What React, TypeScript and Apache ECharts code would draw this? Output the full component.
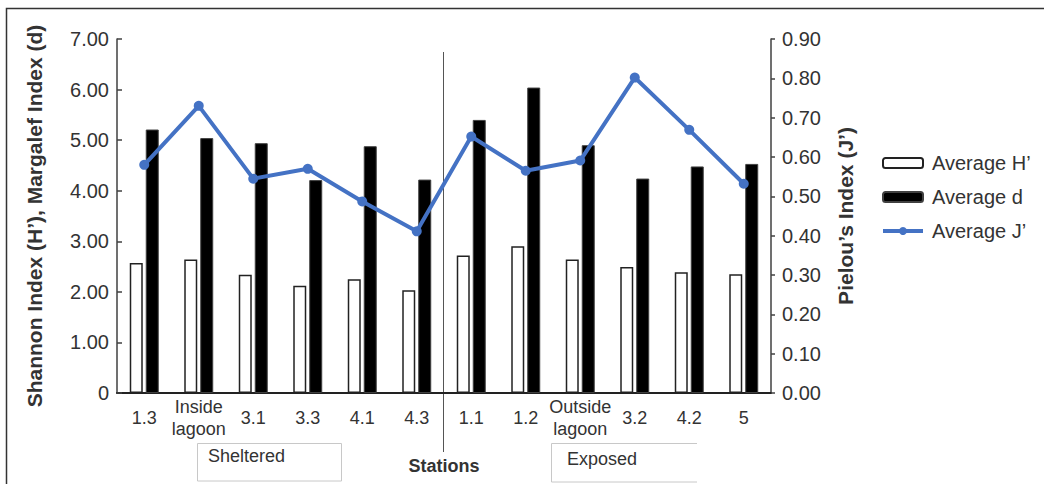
import React, { useEffect, useRef } from "react";
import * as echarts from "echarts";

const stations = ["1.3", "Inside\nlagoon", "3.1", "3.3", "4.1", "4.3", "1.1", "1.2", "Outside\nlagoon", "3.2", "4.2", "5"];
const averageH = [2.57, 2.64, 2.34, 2.12, 2.25, 2.03, 2.72, 2.9, 2.64, 2.49, 2.39, 2.35];
const averageD = [5.21, 5.04, 4.94, 4.21, 4.88, 4.22, 5.4, 6.04, 4.9, 4.24, 4.48, 4.53];
const averageJ = [0.58, 0.73, 0.545, 0.57, 0.487, 0.411, 0.652, 0.565, 0.591, 0.802, 0.669, 0.532];
const seriesNames = ["Average H’", "Average d", "Average J’"];
const leftAxisName = "Shannon Index (H’), Margalef Index (d)";
const rightAxisName = "Pielou’s Index (J’)";
const xAxisName = "Stations";
const groupLabels = ["Sheltered", "Exposed"];

const FONT = "'Liberation Sans', Arial, sans-serif";
const TXT = "#333333";
const BLUE = "#4472C4";

export default function App() {
  const ref = useRef<HTMLDivElement>(null);
  useEffect(() => {
    if (!ref.current) return;
    const chart = echarts.init(ref.current, null, { renderer: "svg" });
    chart.setOption({
      animation: false,
      backgroundColor: "#ffffff",
      textStyle: { fontFamily: FONT },
      grid: { left: 117, right: 273, top: 39, bottom: 91 },
      legend: {
        orient: "vertical",
        left: 876,
        top: 148,
        itemWidth: 40,
        itemHeight: 10,
        itemGap: 14,
        data: [
          { name: seriesNames[0] },
          { name: seriesNames[1] },
          { name: seriesNames[2], lineStyle: { width: 4, color: BLUE } },
        ],
        textStyle: { fontSize: 20, color: TXT, fontFamily: FONT, padding: [0, 0, 0, 4] },
      },
      xAxis: {
        type: "category",
        data: stations,
        axisLine: { lineStyle: { color: "#222", width: 2 } },
        axisTick: { show: false },
        axisLabel: {
          fontSize: 18,
          color: TXT,
          fontFamily: FONT,
          verticalAlign: "middle",
          margin: 25,
          lineHeight: 22,
          interval: 0,
        },
      },
      yAxis: [
        {
          type: "value",
          min: 0,
          max: 7,
          interval: 1,
          name: leftAxisName,
          nameLocation: "middle",
          nameGap: 72,
          nameRotate: 90,
          nameTextStyle: { fontSize: 21, fontWeight: "bold", color: TXT, fontFamily: FONT },
          axisLine: { show: true, lineStyle: { color: "#404040", width: 1.5 } },
          axisTick: { show: true, inside: true, length: 5, lineStyle: { color: "#404040", width: 1.5 } },
          splitLine: { show: false },
          axisLabel: {
            fontSize: 20,
            color: TXT,
            fontFamily: FONT,
            margin: 8,
            formatter: (v: number) => (v === 0 ? "0" : v.toFixed(2)),
          },
        },
        {
          type: "value",
          min: 0,
          max: 0.9,
          interval: 0.1,
          name: rightAxisName,
          nameLocation: "middle",
          nameGap: 64,
          nameRotate: 90,
          nameTextStyle: { fontSize: 21, fontWeight: "bold", color: TXT, fontFamily: FONT },
          axisLine: { show: true, lineStyle: { color: "#404040", width: 1.5 } },
          axisTick: { show: true, inside: false, length: 4, lineStyle: { color: "#404040", width: 1.5 } },
          splitLine: { show: false },
          axisLabel: {
            fontSize: 20,
            color: TXT,
            fontFamily: FONT,
            margin: 11,
            formatter: (v: number) => v.toFixed(2),
          },
        },
      ],
      series: [
        {
          name: seriesNames[0],
          type: "bar",
          data: averageH,
          barWidth: 13,
          barGap: "23%",
          itemStyle: { color: "#ffffff", borderColor: "#222", borderWidth: 1.5 },
        },
        {
          name: seriesNames[1],
          type: "bar",
          data: averageD,
          barWidth: 13,
          barGap: "23%",
          itemStyle: { color: "#000000", borderColor: "#404040", borderWidth: 1 },
        },
        {
          name: seriesNames[2],
          type: "line",
          yAxisIndex: 1,
          data: averageJ,
          z: 5,
          symbol: "circle",
          symbolSize: 10,
          lineStyle: { color: BLUE, width: 4 },
          itemStyle: { color: BLUE },
        },
      ],
      graphic: [
        {
          type: "rect",
          shape: { x: 6.5, y: 8.5, width: 1100, height: 600 },
          style: { fill: "none", stroke: "#333", lineWidth: 1.5 },
          silent: true,
        },
        {
          type: "line",
          shape: { x1: 443.5, y1: 52, x2: 443.5, y2: 452 },
          style: { stroke: "#555", lineWidth: 1 },
          silent: true,
        },
        {
          type: "rect",
          shape: { x: 197.5, y: 443.5, width: 144, height: 37.5 },
          style: { fill: "none", stroke: "#c8c8c8", lineWidth: 1 },
          silent: true,
        },
        {
          type: "polyline",
          shape: { points: [[697, 443.5], [551.5, 443.5], [551.5, 482], [697, 482]] },
          style: { fill: "none", stroke: "#c8c8c8", lineWidth: 1 },
          silent: true,
        },
        {
          type: "text",
          x: 208,
          y: 456,
          style: { text: groupLabels[0], fontSize: 18, fill: TXT, fontFamily: FONT, verticalAlign: "middle" },
        },
        {
          type: "text",
          x: 567,
          y: 459,
          style: { text: groupLabels[1], fontSize: 18, fill: TXT, fontFamily: FONT, verticalAlign: "middle" },
        },
        {
          type: "text",
          x: 444,
          y: 466,
          style: {
            text: xAxisName,
            fontSize: 18,
            fontWeight: "bold",
            fill: TXT,
            fontFamily: FONT,
            align: "center",
            verticalAlign: "middle",
          },
        },
      ],
    });
    return () => chart.dispose();
  }, []);
  return <div ref={ref} style={{ position: "absolute", left: 0, top: 0, width: 1044, height: 484 }} />;
}
